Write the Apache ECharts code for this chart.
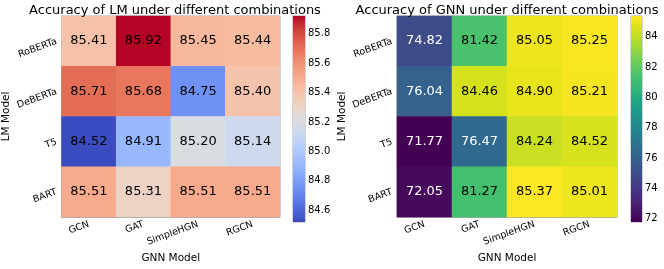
<!DOCTYPE html>
<html><head><meta charset="utf-8">
<script src="https://cdn.jsdelivr.net/npm/echarts@6/dist/echarts.min.js"></script>
<style>html,body{margin:0;padding:0;background:#fff}#c{width:664px;height:269px}</style>
</head><body><div id="c"></div>
<script>
const gnnModels = ['GCN', 'GAT', 'SimpleHGN', 'RGCN'];
const lmModels = ['RoBERTa', 'DeBERTa', 'T5', 'BART'];
// rows follow lmModels, columns follow gnnModels
const lmAccuracy = [
  [85.41, 85.92, 85.45, 85.44],
  [85.71, 85.68, 84.75, 85.40],
  [84.52, 84.91, 85.20, 85.14],
  [85.51, 85.31, 85.51, 85.51]
];
const gnnAccuracy = [
  [74.82, 81.42, 85.05, 85.25],
  [76.04, 84.46, 84.90, 85.21],
  [71.77, 76.47, 84.24, 84.52],
  [72.05, 81.27, 85.37, 85.01]
];
const lmTicks = [84.6, 84.8, 85.0, 85.2, 85.4, 85.6, 85.8];
const gnnTicks = [72, 74, 76, 78, 80, 82, 84];
const titles = ['Accuracy of LM under different combinations', 'Accuracy of GNN under different combinations'];

const coolwarm = ['#3b4cc0','#445acc','#4d68d7','#5775e1','#6282ea','#6c8ef1','#779af7','#82a5fb','#8db0fe','#98b9ff','#a3c2ff','#aec9fd','#b8d0f9','#c2d5f4','#ccd9ee','#d5dbe6','#dddddd','#e5d8d1','#ecd3c5','#f1ccb9','#f5c4ad','#f7bba0','#f7b194','#f7a687','#f49a7b','#f18d6f','#ec7f63','#e57058','#de604d','#d55042','#cb3e38','#c0282f','#b40426'];
const viridis = ['#440154','#471365','#482475','#463480','#414487','#3b528b','#355f8d','#306a8e','#2a788e','#25848e','#21918c','#1e9c89','#22a884','#35b779','#44bf70','#5ec962','#7ad151','#9fda3a','#bddf26','#dfe318','#fde725'];

function minMax(m){ const f = m.flat(); return [Math.min(...f), Math.max(...f)]; }
const lmRange = minMax(lmAccuracy);
const gnnRange = minMax(gnnAccuracy);

function cells(m, whiteBelow){
  const out = [];
  m.forEach((row, r) => row.forEach((v, c) => {
    out.push({value: [c, r, v], label: {color: v < whiteBelow ? '#ffffff' : '#000000'}});
  }));
  return out;
}
function stops(cols){ return cols.map((c, i) => ({offset: i / (cols.length - 1), color: c})); }

const font = 'DejaVu Sans';
const gridBorder = '#a8a8a8';
const layouts = [
  {hm: {left: 60, top: 16, width: 220, height: 206}, cb: {left: 293, top: 16, width: 12, height: 206}, tx: 170},
  {hm: {left: 397, top: 16, width: 220, height: 206}, cb: {left: 631, top: 16, width: 11, height: 206}, tx: 502}
];
const ranges = [lmRange, gnnRange];
const tickSets = [lmTicks, gnnTicks];
const maps = [coolwarm, viridis];
const mats = [lmAccuracy, gnnAccuracy];
const thresholds = [-Infinity, (gnnRange[0] + gnnRange[1]) / 2];

const grid = [], xAxis = [], yAxis = [], series = [], visualMap = [], title = [];
for (let k = 0; k < 2; k++) {
  const L = layouts[k];
  grid.push(Object.assign({show: true, borderColor: gridBorder, borderWidth: 1}, L.hm));
  grid.push(Object.assign({show: true, borderColor: gridBorder, borderWidth: 1}, L.cb));
  title.push({text: titles[k], left: L.tx, top: -1, textAlign: 'center',
    textStyle: {fontFamily: font, fontSize: 13, fontWeight: 'normal', color: '#000'}});
  xAxis.push({gridIndex: 2*k, type: 'category', data: gnnModels, name: 'GNN Model', nameLocation: 'middle', nameGap: 31,
    nameTextStyle: {fontFamily: font, fontSize: 10.5, color: '#000'},
    axisLine: {lineStyle: {color: gridBorder}}, axisTick: {alignWithLabel: true, length: 3.5, lineStyle: {color: '#333'}},
    axisLabel: {rotate: 20, fontFamily: font, fontSize: 9.5, color: '#000', margin: 7}, splitLine: {show: false}});
  yAxis.push({gridIndex: 2*k, type: 'category', data: lmModels, inverse: true, name: 'LM Model', nameLocation: 'middle', nameGap: 45,
    nameTextStyle: {fontFamily: font, fontSize: 10.5, color: '#000'},
    axisLine: {lineStyle: {color: gridBorder}}, axisTick: {alignWithLabel: true, length: 3.5, lineStyle: {color: '#333'}},
    axisLabel: {rotate: 20, fontFamily: font, fontSize: 9.5, color: '#000', margin: 5}, splitLine: {show: false}});
  xAxis.push({gridIndex: 2*k+1, type: 'value', min: 0, max: 1, show: false});
  yAxis.push({gridIndex: 2*k+1, type: 'value', position: 'right', min: ranges[k][0], max: ranges[k][1],
    axisLine: {show: false}, splitLine: {show: false},
    axisTick: {show: true, length: 3.5, lineStyle: {color: '#333'}, customValues: tickSets[k]},
    axisLabel: {fontFamily: font, fontSize: 10, color: '#000', margin: 3, customValues: tickSets[k],
      formatter: v => k === 0 ? v.toFixed(1) : String(Math.round(v))}});
  series.push({type: 'heatmap', xAxisIndex: 2*k, yAxisIndex: 2*k, data: cells(mats[k], thresholds[k]),
    label: {show: true, fontFamily: font, fontSize: 13, formatter: p => p.value[2].toFixed(2)},
    emphasis: {disabled: true}, itemStyle: {borderWidth: 0}});
  const cols = maps[k];
  series.push({type: 'custom', xAxisIndex: 2*k+1, yAxisIndex: 2*k+1, data: [[ranges[k][0], ranges[k][1]]],
    silent: true,
    renderItem: (params, api) => {
      const p0 = api.coord([0, api.value(0)]);
      const p1 = api.coord([1, api.value(1)]);
      return {type: 'rect', shape: {x: p0[0], y: p1[1], width: p1[0] - p0[0], height: p0[1] - p1[1]},
        style: {fill: {type: 'linear', x: 0, y: 1, x2: 0, y2: 0, colorStops: stops(cols)}}};
    }});
  visualMap.push({show: false, type: 'continuous', seriesIndex: 2*k, dimension: 2, min: ranges[k][0], max: ranges[k][1],
    inRange: {color: cols}});
}

const chart = echarts.init(document.getElementById('c'), null, {renderer: 'canvas'});
chart.setOption({animation: false, backgroundColor: '#fff', title, grid, xAxis, yAxis, series, visualMap});
</script></body></html>
